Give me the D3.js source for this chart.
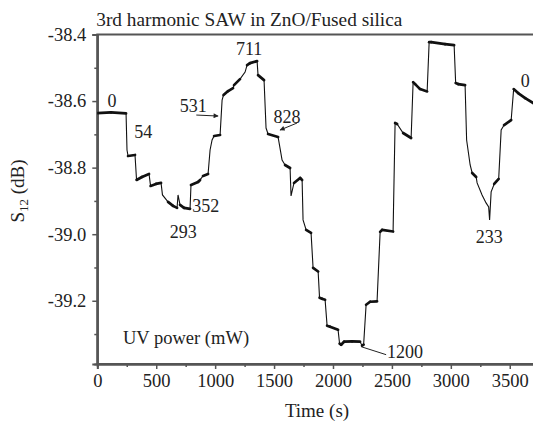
<!DOCTYPE html>
<html>
<head>
<meta charset="utf-8">
<script src="https://cdn.jsdelivr.net/npm/d3@7"></script>
<style>
  body { margin: 0; background: #fff; }
  svg { display: block; }
</style>
</head>
<body>
<svg id="svg"></svg>
<script>
// time (s) and S12 (dB)
const times = [0, 116, 244, 252, 261, 320, 333, 379, 439, 452, 498, 541, 553, 600, 643, 677, 685, 702, 736, 787,
  795, 855, 872, 897, 940, 957, 974, 991, 1042, 1059, 1071, 1110, 1152, 1160, 1211, 1254, 1271, 1296, 1356, 1364,
  1415, 1432, 1449, 1534, 1568, 1593, 1636, 1644, 1669, 1721, 1738, 1746, 1772, 1814, 1831, 1874, 1886, 1907, 1933, 1950,
  1975, 2043, 2056, 2069, 2094, 2162, 2230, 2247, 2260, 2281, 2315, 2374, 2400, 2417, 2510, 2527, 2544, 2595, 2663, 2680,
  2697, 2739, 2799, 2816, 2833, 2951, 3028, 3041, 3062, 3121, 3134, 3164, 3181, 3215, 3223, 3265, 3299, 3321, 3329, 3342,
  3368, 3406, 3427, 3452, 3512, 3533, 3571, 3631, 3699]
const s12 = [-38.636, -38.634, -38.637, -38.747, -38.765, -38.762, -38.837, -38.828, -38.819, -38.855, -38.849, -38.846, -38.882, -38.903, -38.915, -38.921, -38.882, -38.912, -38.921, -38.924,
  -38.852, -38.843, -38.837, -38.825, -38.819, -38.747, -38.717, -38.705, -38.702, -38.597, -38.582, -38.570, -38.561, -38.552, -38.534, -38.513, -38.492, -38.486, -38.480, -38.522,
  -38.537, -38.681, -38.699, -38.708, -38.777, -38.792, -38.801, -38.885, -38.846, -38.831, -38.837, -38.957, -38.987, -38.996, -39.101, -39.112, -39.191, -39.194, -39.197, -39.275,
  -39.278, -39.287, -39.329, -39.332, -39.323, -39.322, -39.323, -39.335, -39.332, -39.212, -39.203, -39.202, -38.993, -38.987, -38.992, -38.666, -38.669, -38.696, -38.711, -38.543,
  -38.549, -38.564, -38.571, -38.423, -38.423, -38.429, -38.432, -38.546, -38.549, -38.552, -38.717, -38.792, -38.816, -38.828, -38.846, -38.882, -38.906, -38.918, -38.957, -38.873,
  -38.849, -38.834, -38.687, -38.672, -38.657, -38.564, -38.576, -38.591, -38.606]

const xTicks = [0, 500, 1000, 1500, 2000, 2500, 3000, 3500]
const yTicks = [-39.2, -39.0, -38.8, -38.6, -38.4]

// UV power labels (mW) and where they sit in data units
const powerLabels = ["0", "54", "293", "352", "531", "711", "828", "1200", "233", "0"]
const powerTime = [125, 389, 729, 920, 815, 1288, 1610, 2612, 3325, 3631]
const powerS12 = [-38.618, -38.711, -39.011, -38.932, -38.633, -38.462, -38.666, -39.371, -39.026, -38.558]

// pointers: [t0, v0, t1, v1, arrowhead]
const pointers = [
  [840, -38.642, 1025, -38.645, true],
  [1695, -38.666, 1551, -38.687, true],
  [2451, -39.362, 2239, -39.338, false]
]

const width = 533
const height = 422
const margin = {top: 34.5, right: -1.5, bottom: 58, left: 97.3}
const serif = "'Liberation Serif', 'Times New Roman', serif"

const x = d3.scaleLinear()
    .domain([0, 3710])
    .range([margin.left, width - margin.right])

const y = d3.scaleLinear()
    .domain([-38.4, -39.39])
    .range([margin.top, height - margin.bottom])

const svg = d3.select("#svg")
    .attr("width", width)
    .attr("height", height)
    .attr("viewBox", [0, 0, width, height])

svg.append("defs").append("marker")
    .attr("id", "arrow")
    .attr("viewBox", "0 0 10 10")
    .attr("refX", 9)
    .attr("refY", 5)
    .attr("markerWidth", 7)
    .attr("markerHeight", 5)
    .attr("markerUnits", "userSpaceOnUse")
    .attr("orient", "auto")
  .append("path")
    .attr("d", "M0,0L10,5L0,10Z")
    .attr("fill", "#222")

svg.append("clipPath")
    .attr("id", "clip")
  .append("rect")
    .attr("x", margin.left)
    .attr("y", margin.top)
    .attr("width", width - margin.right - margin.left)
    .attr("height", height - margin.bottom - margin.top)

// frame
svg.append("rect")
    .attr("x", margin.left)
    .attr("y", margin.top)
    .attr("width", width - margin.right - margin.left)
    .attr("height", height - margin.bottom - margin.top)
    .attr("fill", "none")
    .attr("stroke", "#555")
    .attr("stroke-width", 2)

const xAxis = svg.append("g")
    .attr("transform", `translate(0,${height - margin.bottom})`)
    .call(d3.axisBottom(x).tickValues(xTicks).tickSize(5).tickPadding(5).tickFormat(d3.format("d")))
xAxis.append("g")
    .call(d3.axisBottom(x).tickValues(d3.range(250, 3700, 500)).tickSize(3).tickFormat(""))

const yAxis = svg.append("g")
    .attr("transform", `translate(${margin.left},0)`)
    .call(d3.axisLeft(y).tickValues(yTicks).tickSize(5).tickPadding(6).tickFormat(d3.format(".1f")))
yAxis.append("g")
    .call(d3.axisLeft(y).tickValues([-39.3, -39.1, -38.9, -38.7, -38.5]).tickSize(3).tickFormat(""))

svg.selectAll(".domain").attr("stroke", "#555").attr("stroke-width", 2)
svg.selectAll(".tick line").attr("stroke", "#555").attr("stroke-width", 1.5)
svg.selectAll(".tick text")
    .attr("font-family", serif)
    .attr("font-size", 18.5)
    .attr("fill", "#222")
    .text(function() { return d3.select(this).text().replace("\u2212", "-") })

// trace
const pts = times.map((t, i) => [x(t), y(s12[i])])
const plot = svg.append("g").attr("clip-path", "url(#clip)")

plot.append("path")
    .datum(pts)
    .attr("fill", "none")
    .attr("stroke", "#111")
    .attr("stroke-width", 1.1)
    .attr("d", d3.line())

// plateaus look heavier because of the noise
const flats = d3.pairs(pts).filter(([a, b]) => Math.abs(b[1] - a[1]) < Math.abs(b[0] - a[0]) * 1.2)
plot.append("g")
  .selectAll()
  .data(flats)
  .join("path")
    .attr("fill", "none")
    .attr("stroke", "#111")
    .attr("stroke-width", 2.7)
    .attr("stroke-linecap", "round")
    .attr("d", d3.line())

// power labels
svg.append("g")
    .attr("font-family", serif)
    .attr("font-size", 18)
    .attr("fill", "#222")
    .attr("text-anchor", "middle")
  .selectAll()
  .data(powerLabels)
  .join("text")
    .attr("x", (d, i) => x(powerTime[i]))
    .attr("y", (d, i) => y(powerS12[i]))
    .text(d => d)

svg.append("g")
  .selectAll()
  .data(pointers)
  .join("line")
    .attr("x1", d => x(d[0]))
    .attr("y1", d => y(d[1]))
    .attr("x2", d => x(d[2]))
    .attr("y2", d => y(d[3]))
    .attr("stroke", "#222")
    .attr("stroke-width", 1)
    .attr("marker-end", d => d[4] ? "url(#arrow)" : null)

svg.append("text")
    .attr("x", margin.left - 1)
    .attr("y", 26)
    .attr("font-family", serif)
    .attr("font-size", 19.3)
    .attr("fill", "#222")
    .text("3rd harmonic SAW in ZnO/Fused silica")

svg.append("text")
    .attr("x", 123)
    .attr("y", 344)
    .attr("font-family", serif)
    .attr("font-size", 18.5)
    .attr("fill", "#222")
    .text("UV power (mW)")

svg.append("text")
    .attr("x", 317)
    .attr("y", 417)
    .attr("text-anchor", "middle")
    .attr("font-family", serif)
    .attr("font-size", 19)
    .attr("fill", "#222")
    .text("Time (s)")

const ylab = svg.append("text")
    .attr("transform", "translate(24,191) rotate(-90)")
    .attr("text-anchor", "middle")
    .attr("font-family", serif)
    .attr("font-size", 19)
    .attr("fill", "#222")
ylab.append("tspan").text("S")
ylab.append("tspan").attr("font-size", 13).attr("dy", 4).text("12")
ylab.append("tspan").attr("dy", -4).text(" (dB)")
</script>
</body>
</html>
